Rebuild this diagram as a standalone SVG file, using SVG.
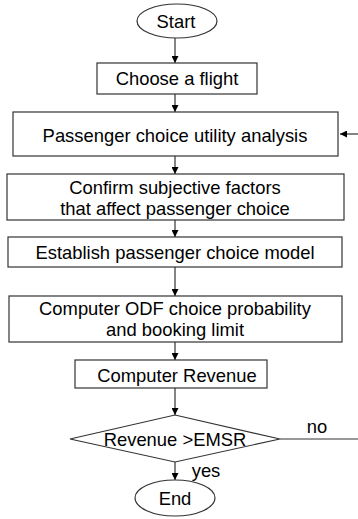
<svg xmlns="http://www.w3.org/2000/svg" width="358" height="519" viewBox="0 0 358 519">
<style>
.box{fill:#fff;stroke:#333;stroke-width:1.2}
.t{font-family:"Liberation Sans",Arial,sans-serif;font-size:18.4px;fill:#000;text-anchor:middle;dominant-baseline:central}
.c{stroke:#333;stroke-width:1.2;fill:none}
</style>
<defs>
<marker id="ah" viewBox="0 0 10 10" refX="10" refY="5" markerWidth="7" markerHeight="7" markerUnits="userSpaceOnUse" orient="auto">
<path d="M0,0 L10,5 L0,10 z" fill="#000"/>
</marker>
</defs>
<rect width="358" height="519" fill="#fff"/>
<g id="connectors">
<line class="c" x1="175" y1="38" x2="175" y2="63" marker-end="url(#ah)"/>
<line class="c" x1="175" y1="94" x2="175" y2="112" marker-end="url(#ah)"/>
<line class="c" x1="175" y1="156" x2="175" y2="174" marker-end="url(#ah)"/>
<line class="c" x1="175" y1="220" x2="175" y2="237" marker-end="url(#ah)"/>
<line class="c" x1="175" y1="267" x2="175" y2="296" marker-end="url(#ah)"/>
<line class="c" x1="175" y1="342" x2="175" y2="360" marker-end="url(#ah)"/>
<line class="c" x1="175" y1="388" x2="175" y2="415" marker-end="url(#ah)"/>
<line class="c" x1="175" y1="462" x2="175" y2="480" marker-end="url(#ah)"/>
<line class="c" x1="280" y1="439" x2="358" y2="439"/>
<line class="c" x1="358" y1="134" x2="340" y2="134" marker-end="url(#ah)"/>
<text class="t" x="317" y="426">no</text>
<text class="t" x="206" y="470">yes</text>
</g>
<g id="start">
<ellipse class="box" cx="177" cy="21" rx="40" ry="17"/>
<text class="t" x="176" y="21">Start</text>
</g>
<g id="choose">
<rect class="box" x="97" y="63" width="160" height="31"/>
<text class="t" x="177" y="78">Choose a flight</text>
</g>
<g id="utility">
<rect class="box" x="13" y="112" width="325" height="44"/>
<text class="t" x="175" y="135">Passenger choice utility analysis</text>
</g>
<g id="confirm">
<rect class="box" x="7" y="174" width="337" height="46"/>
<text class="t" x="175" y="187">Confirm subjective factors</text>
<text class="t" x="175" y="208">that affect passenger choice</text>
</g>
<g id="model">
<rect class="box" x="8" y="237" width="334" height="30"/>
<text class="t" x="175" y="252">Establish passenger choice model</text>
</g>
<g id="odf">
<rect class="box" x="9" y="296" width="333" height="46"/>
<text class="t" x="175" y="308">Computer ODF choice probability</text>
<text class="t" x="175" y="329">and booking limit</text>
</g>
<g id="revenue">
<rect class="box" x="75" y="360" width="192" height="28"/>
<text class="t" x="177" y="375">Computer Revenue</text>
</g>
<g id="decision">
<polygon class="box" points="175,415 280,439 175,462 70,439"/>
<text class="t" x="175" y="439">Revenue &gt;EMSR</text>
</g>
<g id="end">
<ellipse class="box" cx="175" cy="498" rx="40" ry="18"/>
<text class="t" x="175" y="498">End</text>
</g>
</svg>
